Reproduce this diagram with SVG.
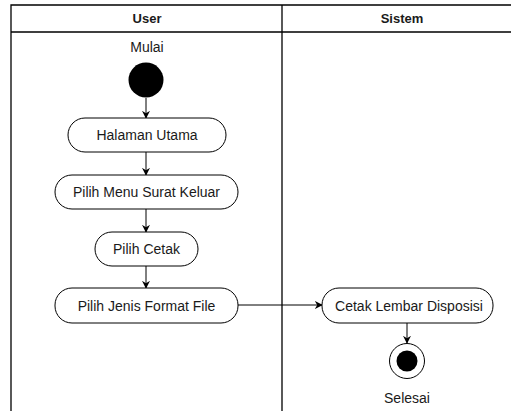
<svg xmlns="http://www.w3.org/2000/svg" width="511" height="411" viewBox="0 0 511 411">
  <defs>
    <marker id="arrow" viewBox="0 0 10 10" refX="9" refY="5" markerWidth="8" markerHeight="8" markerUnits="userSpaceOnUse" orient="auto">
      <path d="M0,0 L10,5 L0,10 L3,5 Z" fill="#000"/>
    </marker>
  </defs>
  <style>
    .lane { fill: none; stroke: #000; stroke-width: 1.3; }
    .act { fill: #fff; stroke: #000; stroke-width: 1; }
    .lbl { font-family: "Liberation Sans", Arial, sans-serif; font-size: 14px; fill: #1a1a1a; text-anchor: middle; }
    .hdr { font-family: "Liberation Sans", Arial, sans-serif; font-size: 13px; font-weight: bold; fill: #1a1a1a; text-anchor: middle; }
    .edge { fill: none; stroke: #000; stroke-width: 1; marker-end: url(#arrow); }
  </style>
  <rect width="511" height="411" fill="#fff"/>

  <!-- swimlanes -->
  <g id="lanes">
    <path class="lane" d="M11,411 V5 H520 M11,32 H520 M282,5 V411"/>
    <text class="hdr" x="147" y="23">User</text>
    <text class="hdr" x="402" y="23">Sistem</text>
  </g>

  <!-- connectors -->
  <g id="connectors">
    <path class="edge" d="M146,98 V118"/>
    <path class="edge" d="M146,152 V175"/>
    <path class="edge" d="M146,209 V232"/>
    <path class="edge" d="M146,266 V288"/>
    <path class="edge" d="M238,305 H322"/>
    <path class="edge" d="M407,323 V343"/>
  </g>

  <g id="start">
    <text class="lbl" x="147" y="52">Mulai</text>
    <circle cx="146" cy="80" r="17.5" fill="#000"/>
  </g>

  <g id="halaman-utama">
    <rect class="act" x="68" y="118" width="158" height="34" rx="17"/>
    <text class="lbl" x="147" y="140">Halaman Utama</text>
  </g>

  <g id="pilih-menu">
    <rect class="act" x="55" y="175" width="183" height="34" rx="17"/>
    <text class="lbl" x="146.5" y="197">Pilih Menu Surat Keluar</text>
  </g>

  <g id="pilih-cetak">
    <rect class="act" x="95" y="232" width="103" height="34" rx="17"/>
    <text class="lbl" x="146.5" y="254">Pilih Cetak</text>
  </g>

  <g id="pilih-format">
    <rect class="act" x="55" y="288" width="183" height="35" rx="17"/>
    <text class="lbl" x="146.5" y="310.5">Pilih Jenis Format File</text>
  </g>

  <g id="cetak-disposisi">
    <rect class="act" x="322" y="288" width="171" height="35" rx="17"/>
    <text class="lbl" x="409" y="310.5">Cetak Lembar Disposisi</text>
  </g>

  <g id="end">
    <circle cx="407" cy="361" r="17.5" fill="#fff" stroke="#000" stroke-width="1"/>
    <circle cx="407" cy="361" r="10.5" fill="#000"/>
    <text class="lbl" x="407" y="403">Selesai</text>
  </g>
</svg>
